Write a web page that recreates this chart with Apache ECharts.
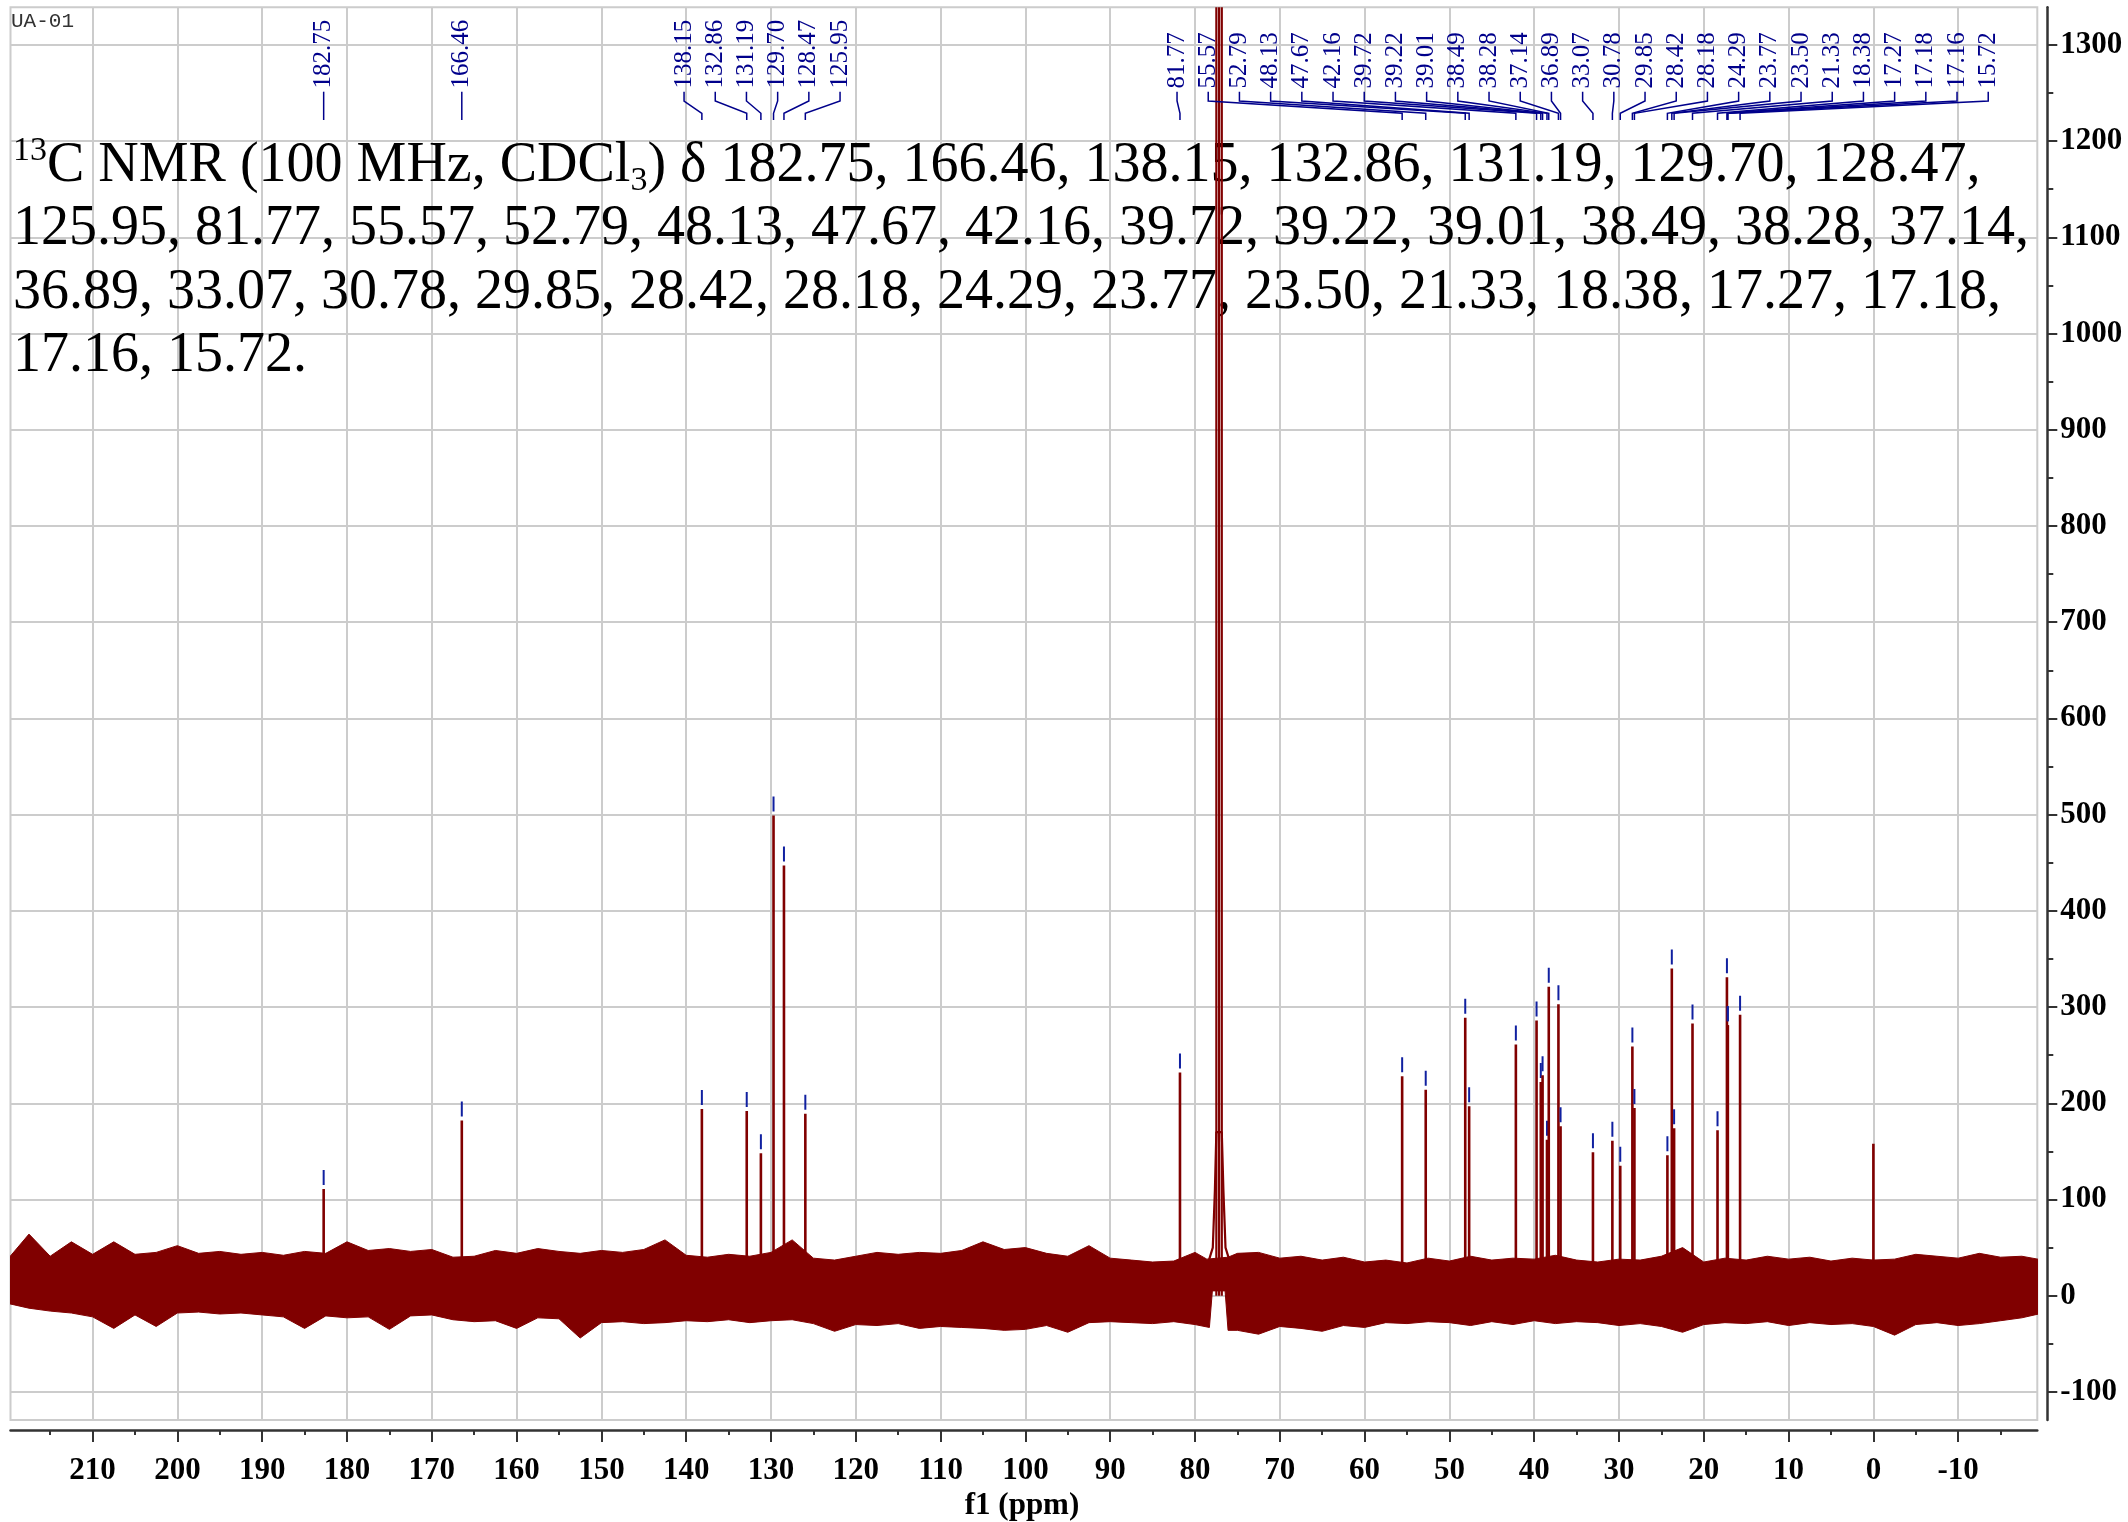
<!DOCTYPE html>
<html>
<head>
<meta charset="utf-8">
<script src="https://cdn.jsdelivr.net/npm/echarts@6/dist/echarts.min.js"></script>
<style>
html,body{margin:0;padding:0;background:#ffffff;}
#chart{width:2128px;height:1522px;}
</style>
</head>
<body>
<div id="chart"></div>
<script>
// ---------------- data ----------------
const xTickValues = [210,200,190,180,170,160,150,140,130,120,110,100,90,80,70,60,50,40,30,20,10,0,-10];
const xMinorTickValues = [215,205,195,185,175,165,155,145,135,125,115,105,95,85,75,65,55,45,35,25,15,5,-5,-15];
const yTickValues = [-100,0,100,200,300,400,500,600,700,800,900,1000,1100,1200,1300];
const yMinorTickValues = [-50,50,150,250,350,450,550,650,750,850,950,1050,1150,1250];

// labelled peaks (ppm) and their intensities
const peakPpm = [182.75,166.46,138.15,132.86,131.19,129.70,128.47,125.95,81.77,55.57,52.79,48.13,47.67,42.16,39.72,39.22,39.01,38.49,38.28,37.14,36.89,33.07,30.78,29.85,28.42,28.18,24.29,23.77,23.50,21.33,18.38,17.27,17.18,17.16,15.72];
const peakHeight = [111,182,194,192,148,499,447,189,232,228,214,289,197,261,286,222,229,162,321,303,176,149,161,135,259,195,146,340,174,283,172,331,281,281,292];

// unlabelled reference peak (TMS)
const tmsPeak = [[0, 158]];

// CDCl3 solvent triplet (off scale) and its broad foot
const solventLines = [[77.48, 1600], [77.16, 1600], [76.84, 1600]];
const solventFoot = [[78.6,30],[77.9,50],[77.65,110],[77.48,170],[77.16,170],[76.84,170],[76.65,110],[76.4,50],[75.7,30]];

// baseline noise envelope
const noiseTop = [[220,38],[217.5,64],[215,41],[212.5,56],[210,43],[207.5,56],[205,43],[202.5,45],[200,52],[197.5,44],[195,46],[192.5,43],[190,45],[187.5,42],[185,46],[182.5,44],[180,56],[177.5,47],[175,49],[172.5,46],[170,48],[167.5,40],[165,41],[162.5,47],[160,44],[157.5,49],[155,46],[152.5,44],[150,47],[147.5,45],[145,48],[142.5,58],[140,42],[137.5,40],[135,43],[132.5,41],[130,45],[127.5,58],[125,39],[122.5,37],[120,41],[117.5,45],[115,43],[112.5,45],[110,44],[107.5,47],[105,56],[102.5,48],[100,50],[97.5,44],[95,41],[92.5,52],[90,39],[87.5,37],[85,35],[82.5,36],[80,45],[78.6,38],[76.1,40],[75,44],[72.5,45],[70,39],[67.5,41],[65,37],[62.5,40],[60,35],[57.5,37],[55,34],[52.5,39],[50,36],[47.5,41],[45,37],[42.5,39],[40,38],[37.5,42],[35,37],[32.5,35],[30,38],[27.5,37],[25,41],[22.5,50],[20,35],[17.5,39],[15,37],[12.5,41],[10,38],[7.5,40],[5,36],[2.5,39],[0,37],[-2.5,38],[-5,43],[-7.5,41],[-10,39],[-12.5,44],[-15,40],[-17.5,41],[-20,37]];
const noiseBottom = [[220,-8],[217.5,-13],[215,-16],[212.5,-18],[210,-22],[207.5,-34],[205,-20],[202.5,-32],[200,-18],[197.5,-17],[195,-19],[192.5,-18],[190,-20],[187.5,-22],[185,-34],[182.5,-21],[180,-23],[177.5,-22],[175,-35],[172.5,-21],[170,-20],[167.5,-25],[165,-27],[162.5,-26],[160,-34],[157.5,-23],[155,-24],[152.5,-44],[150,-28],[147.5,-27],[145,-29],[142.5,-28],[140,-26],[137.5,-27],[135,-25],[132.5,-28],[130,-26],[127.5,-25],[125,-29],[122.5,-37],[120,-30],[117.5,-31],[115,-29],[112.5,-34],[110,-32],[107.5,-33],[105,-34],[102.5,-36],[100,-35],[97.5,-31],[95,-38],[92.5,-28],[90,-27],[87.5,-28],[85,-29],[82.5,-27],[80,-30],[78.3,-33],[77.95,5],[76.45,5],[76.1,-36],[75,-36],[72.5,-40],[70,-32],[67.5,-34],[65,-37],[62.5,-31],[60,-33],[57.5,-28],[55,-29],[52.5,-27],[50,-28],[47.5,-31],[45,-27],[42.5,-30],[40,-26],[37.5,-29],[35,-27],[32.5,-28],[30,-31],[27.5,-29],[25,-32],[22.5,-38],[20,-30],[17.5,-28],[15,-29],[12.5,-27],[10,-31],[7.5,-28],[5,-30],[2.5,-29],[0,-32],[-2.5,-41],[-5,-30],[-7.5,-28],[-10,-31],[-12.5,-29],[-15,-26],[-17.5,-23],[-20,-18]];

const sampleName = 'UA-01';
const axisTitle = 'f1 (ppm)';
const textLineCounts = [7, 13, 13, 2];

// ---------------- build ----------------
const X_MIN = -19.33, X_MAX = 219.68, Y_MIN = -129.2, Y_MAX = 1339.1;
const SPEC = '#800000';
const BLUE = '#00008B';
const SERIF = '"Liberation Serif", "Times New Roman", serif';

const peakData = peakPpm.map((p, i) => [p, peakHeight[i], i]);

// assignment text built from the peak list
let idx = 0;
const textLines = textLineCounts.map((n, li) => {
  const vals = peakPpm.slice(idx, idx + n).map(v => v.toFixed(2));
  idx += n;
  let s = vals.join(', ') + (li === textLineCounts.length - 1 ? '.' : ',');
  if (li === 0) s = '{sup|13}C NMR (100 MHz, CDCl{sub|3}) δ ' + s;
  return s;
});
const bigText = textLines.join('\n');

// label spreading (pixel space)
function spreadLabels(xs, S) {
  const order = xs.map((x, i) => i).sort((a, b) => xs[a] - xs[b]);
  let clusters = order.map(i => ({ members: [i], sum: xs[i] }));
  let changed = true;
  while (changed) {
    changed = false;
    for (let c = 0; c < clusters.length - 1; c++) {
      const a = clusters[c], b = clusters[c + 1];
      const aEnd = a.sum / a.members.length + (a.members.length - 1) / 2 * S;
      const bStart = b.sum / b.members.length - (b.members.length - 1) / 2 * S;
      if (bStart - aEnd < S) {
        clusters.splice(c, 2, { members: a.members.concat(b.members), sum: a.sum + b.sum });
        changed = true;
        break;
      }
    }
  }
  const pos = new Array(xs.length);
  clusters.forEach(cl => {
    const n = cl.members.length, c = cl.sum / n;
    cl.members.forEach((m, k) => { pos[m] = c + (k - (n - 1) / 2) * S; });
  });
  return pos;
}

function renderPeak(params, api) {
  const top = api.coord([api.value(0), api.value(1)]);
  const base = api.coord([api.value(0), 0]);
  return {
    type: 'group',
    children: [
      { type: 'line', shape: { x1: top[0], y1: base[1], x2: top[0], y2: top[1] }, style: { stroke: SPEC, lineWidth: 2.6 } },
      { type: 'line', shape: { x1: top[0], y1: top[1] - 19, x2: top[0], y2: top[1] - 4 }, style: { stroke: '#1020A0', lineWidth: 2 } }
    ]
  };
}

function makePlainPeak(width) {
  return function (params, api) {
    const top = api.coord([api.value(0), api.value(1)]);
    const base = api.coord([api.value(0), 0]);
    return { type: 'line', shape: { x1: top[0], y1: base[1], x2: top[0], y2: top[1] }, style: { stroke: SPEC, lineWidth: width } };
  };
}

function renderLabel(params, api) {
  const xs = peakPpm.map(p => api.coord([p, 0])[0]);
  const pos = spreadLabels(xs, 31.2);
  const i = params.dataIndex;
  const px = xs[i], lx = pos[i];
  const t = params.coordSys.y;
  return {
    type: 'group',
    children: [
      { type: 'polyline', shape: { points: [[lx, t + 84.4], [lx, t + 93.7], [px, t + 106], [px, t + 112.7]] },
        style: { stroke: BLUE, lineWidth: 1.5, fill: null } },
      { type: 'text', x: lx, y: t + 81.2, rotation: Math.PI / 2,
        style: { text: peakPpm[i].toFixed(2), fontSize: 25, fontFamily: SERIF, fill: BLUE, align: 'left', verticalAlign: 'middle' } }
    ]
  };
}

function renderNoise(params, api) {
  const pts = noiseTop.map(p => api.coord(p));
  for (let k = noiseBottom.length - 1; k >= 0; k--) pts.push(api.coord(noiseBottom[k]));
  return { type: 'polygon', shape: { points: pts }, style: { fill: SPEC, stroke: SPEC, lineWidth: 1 } };
}

const gridRect = { left: 10.5, right: 90.7, top: 7.3, bottom: 102 };
const tickLabelStyle = { fontFamily: SERIF, fontWeight: 'bold', fontSize: 31, color: '#000000' };
const plainNumber = v => String(v);

const option = {
  animation: false,
  backgroundColor: '#ffffff',
  grid: [
    Object.assign({ show: true, borderColor: '#cccccc', borderWidth: 2, backgroundColor: 'transparent', containLabel: false }, gridRect),
    Object.assign({ show: false, containLabel: false }, gridRect)
  ],
  xAxis: [
    {
      type: 'value', gridIndex: 0, inverse: true, min: X_MIN, max: X_MAX, position: 'bottom', offset: 10,
      axisLine: { show: true, onZero: false, lineStyle: { color: '#333333', width: 2.5 } },
      axisTick: { show: true, inside: false, length: 12, customValues: xTickValues, lineStyle: { color: '#333333', width: 2 } },
      axisLabel: Object.assign({ show: true, customValues: xTickValues, margin: 25, formatter: plainNumber }, tickLabelStyle),
      splitLine: { show: false }
    },
    {
      type: 'value', gridIndex: 1, inverse: true, min: X_MIN, max: X_MAX, position: 'bottom', offset: 10,
      axisLine: { show: false, onZero: false },
      axisTick: { show: true, inside: false, length: 5, customValues: xMinorTickValues, lineStyle: { color: '#333333', width: 2 } },
      axisLabel: { show: false },
      splitLine: { show: false }
    }
  ],
  yAxis: [
    {
      type: 'value', gridIndex: 0, min: Y_MIN, max: Y_MAX, position: 'right', offset: 10,
      axisLine: { show: true, onZero: false, lineStyle: { color: '#333333', width: 2.5 } },
      axisTick: { show: true, inside: false, length: 10, customValues: yTickValues, lineStyle: { color: '#333333', width: 2 } },
      axisLabel: Object.assign({ show: true, customValues: yTickValues, margin: 13, align: 'left', formatter: plainNumber }, tickLabelStyle),
      splitLine: { show: false }
    },
    {
      type: 'value', gridIndex: 1, min: Y_MIN, max: Y_MAX, position: 'right', offset: 10,
      axisLine: { show: false, onZero: false },
      axisTick: { show: true, inside: false, length: 6, customValues: yMinorTickValues, lineStyle: { color: '#333333', width: 2 } },
      axisLabel: { show: false },
      splitLine: { show: false }
    }
  ],
  graphic: [
    { type: 'text', x: 11, y: 11, z: 1, style: { text: sampleName, fontFamily: '"Liberation Mono", monospace', fontSize: 21, fill: '#333333' } },
    { type: 'text', x: 13, y: 134, z: 1,
      style: {
        text: bigText, fontFamily: SERIF, fontSize: 56, lineHeight: 63.6, fill: '#000000', align: 'left', verticalAlign: 'top',
        rich: {
          sup: { fontFamily: SERIF, fontSize: 34, lineHeight: 40, verticalAlign: 'top', fill: '#000000' },
          sub: { fontFamily: SERIF, fontSize: 34, lineHeight: 33, verticalAlign: 'bottom', fill: '#000000' }
        }
      } },
    { type: 'text', x: 1022, y: 1506, z: 1, style: { text: axisTitle, fontFamily: SERIF, fontWeight: 'bold', fontSize: 31, fill: '#000000', align: 'center', verticalAlign: 'middle' } }
  ],
  series: [
    {
      name: 'grid', type: 'line', xAxisIndex: 0, yAxisIndex: 0, data: [], silent: true, z: 0,
      markLine: {
        silent: true, z: 0, symbol: ['none', 'none'], label: { show: false }, animation: false,
        lineStyle: { color: '#cccccc', width: 2, type: 'solid' },
        emphasis: { disabled: true },
        data: xTickValues.map(v => ({ xAxis: v })).concat(yTickValues.map(v => ({ yAxis: v })))
      }
    },
    { name: 'noise', type: 'custom', xAxisIndex: 0, yAxisIndex: 0, data: [[0, 0]], renderItem: renderNoise, clip: true, silent: true, z: 3 },
    { name: 'solventFoot', type: 'line', xAxisIndex: 0, yAxisIndex: 0, data: solventFoot, showSymbol: false, symbol: 'none', clip: true, silent: true, z: 4,
      lineStyle: { color: SPEC, width: 2.2 } },
    { name: 'solvent', type: 'custom', xAxisIndex: 0, yAxisIndex: 0, data: solventLines, renderItem: makePlainPeak(2.2), clip: true, silent: true, z: 4 },
    { name: 'tms', type: 'custom', xAxisIndex: 0, yAxisIndex: 0, data: tmsPeak, renderItem: makePlainPeak(2.6), clip: true, silent: true, z: 4 },
    { name: 'peaks', type: 'custom', xAxisIndex: 0, yAxisIndex: 0, data: peakData, renderItem: renderPeak, clip: true, silent: true, z: 5 },
    { name: 'labels', type: 'custom', xAxisIndex: 0, yAxisIndex: 0, data: peakData, renderItem: renderLabel, clip: false, silent: true, z: 6 }
  ]
};

const chart = echarts.init(document.getElementById('chart'), null, { renderer: 'canvas', width: 2128, height: 1522 });
chart.setOption(option);
</script>
</body>
</html>
